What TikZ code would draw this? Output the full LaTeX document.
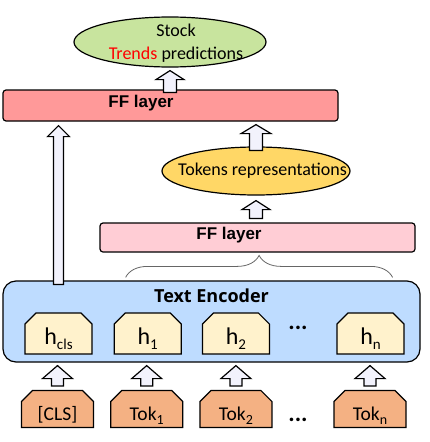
\documentclass[tikz,border=0pt]{standalone}
\usepackage{fontspec}
\setmainfont{Carlito}
\newfontfamily\fflayerfont{Liberation Sans}
\newfontfamily\encfont{Open Sans}
\usetikzlibrary{shapes.geometric, shapes.misc, positioning, decorations.pathreplacing, calc}

\definecolor{predgreen}{RGB}{200,228,158}
\definecolor{ffred}{RGB}{255,153,153}
\definecolor{ffpink}{RGB}{255,205,213}
\definecolor{tokyellow}{RGB}{255,215,102}
\definecolor{encblue}{RGB}{190,220,255}
\definecolor{hcream}{RGB}{255,242,204}
\definecolor{tokorange}{RGB}{244,177,131}
\definecolor{arrowfill}{RGB}{242,242,252}

\tikzstyle{oval} = [ellipse, draw, line width=1.2pt, inner sep=0pt]
\tikzstyle{layer} = [rectangle, draw, line width=1.2pt, rounded corners=3pt, inner sep=0pt]
\tikzstyle{cell} = [chamfered rectangle, chamfered rectangle corners={north west, north east}, chamfered rectangle xsep=5.5pt, chamfered rectangle ysep=5.5pt, draw, line width=1.2pt, inner sep=0pt]
\tikzstyle{hcell} = [cell, fill=hcream, minimum width=67pt, minimum height=41pt, text height=24pt, text depth=3pt, font=\fontsize{24}{26}\selectfont]
\tikzstyle{tcell} = [cell, fill=tokorange, minimum width=72pt, minimum height=32pt, text height=24pt, text depth=2pt, font=\fontsize{19.5}{22}\selectfont]
\tikzstyle{barrow} = [draw, line width=1.2pt, fill=arrowfill, line join=miter]
\tikzstyle{brc} = [draw, gray!80!black, line width=0.8pt, decorate, decoration={brace, amplitude=22pt}]
\tikzstyle{dots} = [font=\bfseries\fontsize{24}{26}\selectfont]

\newcommand{\hsub}[1]{\raisebox{-5pt}{\fontsize{15}{16}\selectfont #1}}
\newcommand{\tsub}[1]{\raisebox{-4pt}{\fontsize{14}{15}\selectfont #1}}

% hollow block arrow: shaft half width, head half width, head length, from, to
\newcommand{\blkarrow}[5]{%
  \path[barrow] let \p1=(#4), \p2=(#5) in
    (\x1-#1pt,\y1) -- (\x1+#1pt,\y1) -- (\x1+#1pt,\y2-#3pt) -- (\x1+#2pt,\y2-#3pt)
    -- (\x1,\y2) -- (\x1-#2pt,\y2-#3pt) -- (\x1-#1pt,\y2-#3pt) -- cycle;}

\begin{document}
\begin{tikzpicture}[x=1pt, y=1pt, node distance = 20pt]
    \useasboundingbox (0,0) rectangle (430,-442);

    % encoder
    \node[layer, fill=encblue, rounded corners=13pt, minimum width=417pt, minimum height=81pt,
          label={[anchor=base, yshift=-22pt, font=\encfont\bfseries\fontsize{18}{20}\selectfont]north:Text Encoder}] (enc) at (211.5,-321.5) {};
    \node[hcell] (hcls) at (58.5,-333.5) {h\hsub{cls}};
    \node[hcell, right=21pt of hcls] (h1) {h\hsub{1}};
    \node[hcell, right=20pt of h1] (h2) {h\hsub{2}};
    \node[hcell] (hn) at (370.5,-333.5) {h\hsub{n}};
    \node[dots] (hdots) at (298,-328) {...};

    % input tokens
    \node[tcell] (cls) at (57.5,-409) {[CLS]};
    \node[tcell, right=16pt of cls] (tok1) {Tok\tsub{1}};
    \node[tcell, right=16pt of tok1] (tok2) {Tok\tsub{2}};
    \node[tcell] (tokn) at (370,-409) {Tok\tsub{n}};
    \node[dots] (tdots) at (298,-420) {...};

    % upper layers
    \node[layer, fill=ffpink, minimum width=315pt, minimum height=29pt,
          label={[xshift=-28.5pt, yshift=2.5pt, font=\fflayerfont\bfseries\fontsize{17}{20}\selectfont]center:FF layer}] (ffmid) at (257.5,-237.5) {};
    \node[oval, fill=tokyellow, minimum width=188pt, minimum height=48pt,
          label={[xshift=6.5pt, font=\fontsize{18}{22}\selectfont]center:Tokens representations}] (tokrep) at (256,-171) {};
    \node[layer, fill=ffred, minimum width=335pt, minimum height=31pt,
          label={[xshift=-29.5pt, yshift=2.5pt, font=\fflayerfont\bfseries\fontsize{17}{20}\selectfont]center:FF layer}] (fftop) at (170.5,-105.5) {};
    \node[oval, fill=predgreen, minimum width=192pt, minimum height=50pt,
          label={[xshift=6pt, yshift=-1pt, align=center, font=\fontsize{18}{23}\selectfont]center:Stock\\{\color{red}Trends} predictions}] (pred) at (170,-42) {};

    % arrows
    \foreach \a in {cls, tok1, tok2, tokn}
        \blkarrow{6}{15}{13}{[yshift=4pt]\a.north}{[yshift=-3pt]enc.south -| \a.north};
    \blkarrow{5}{11}{11}{[yshift=-4pt]hcls.north |- enc.north}{[yshift=-4pt]fftop.south -| hcls.north};
    \blkarrow{6.5}{14}{9}{[yshift=4pt]ffmid.north -| tokrep.south}{[yshift=-5pt]tokrep.south};
    \blkarrow{6.5}{15}{9}{[yshift=-4pt]tokrep.north}{[yshift=-3pt]fftop.south -| tokrep.north};
    \blkarrow{6.5}{14}{9}{[yshift=-3pt]fftop.north -| pred.south}{[yshift=-3pt]pred.south};

    \draw[brc] ([xshift=12pt, yshift=3pt]h1.west |- enc.north) -- ([xshift=-12pt, yshift=3pt]hn.east |- enc.north);
\end{tikzpicture}
\end{document}
